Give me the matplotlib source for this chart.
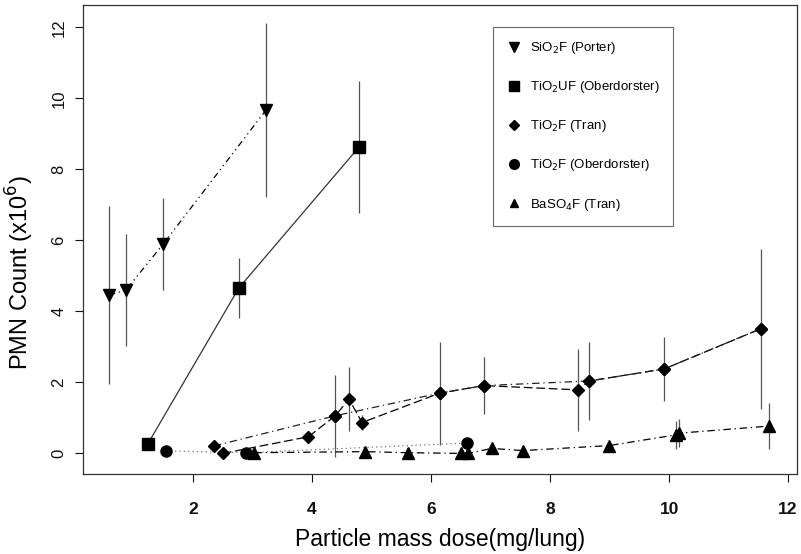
import matplotlib
matplotlib.use("Agg")
import matplotlib.pyplot as plt
from matplotlib.lines import Line2D

plt.rcParams['font.family'] = ['Liberation Sans', 'DejaVu Sans']

# SiO2 F (Porter)
sio2_x = [0.59, 0.87, 1.50, 3.23]
sio2_y = [4.46, 4.60, 5.90, 9.68]
sio2_e = [2.50, 1.58, 1.30, 2.45]

# TiO2 UF (Oberdorster)
tuf_x = [1.24, 2.77, 4.79]
tuf_y = [0.27, 4.66, 8.63]
tuf_e = [0.05, 0.85, 1.85]

# TiO2 F (Tran) - two exposure series
tran_a_x = [2.50, 3.94, 4.39, 4.62, 4.84, 6.15, 6.89, 8.47, 8.66, 9.92, 11.54]
tran_a_y = [0.00, 0.47, 1.06, 1.53, 0.87, 1.70, 1.91, 1.79, 2.04, 2.38, 3.51]
tran_a_e = [0.05, 0.10, 1.15, 0.90, 0.20, 1.45, 0.80, 1.15, 1.10, 0.90, 2.25]
tran_b_x = [2.35, 4.39, 6.15, 6.89, 8.66, 9.92, 11.54]
tran_b_y = [0.21, 1.06, 1.70, 1.91, 2.04, 2.38, 3.51]

# TiO2 F (Oberdorster)
tf_x = [1.55, 2.89, 6.60]
tf_y = [0.07, 0.02, 0.29]

# BaSO4 F (Tran)
ba_x = [3.03, 4.89, 5.61, 6.50, 6.62, 7.02, 7.54, 8.99, 10.11, 10.17, 11.68]
ba_y = [0.02, 0.05, 0.02, 0.00, 0.00, 0.14, 0.08, 0.22, 0.52, 0.57, 0.77]
ba_e = [0.02, 0.05, 0.02, 0.02, 0.02, 0.05, 0.03, 0.05, 0.40, 0.40, 0.65]

legend_labels = ["SiO$_2$F (Porter)", "TiO$_2$UF (Oberdorster)", "TiO$_2$F (Tran)",
                 "TiO$_2$F (Oberdorster)", "BaSO$_4$F (Tran)"]

fig = plt.figure(figsize=(8.01, 5.54), dpi=100)
ax = fig.add_axes([0.1036, 0.1444, 0.8914, 0.8466])

ebc = '#555555'
ekw = dict(fmt='none', ecolor=ebc, elinewidth=0.9, capsize=0, zorder=1)
ax.errorbar(sio2_x, sio2_y, yerr=sio2_e, **ekw)
ax.errorbar(tuf_x, tuf_y, yerr=tuf_e, **ekw)
ax.errorbar(tran_a_x, tran_a_y, yerr=tran_a_e, **ekw)
ax.errorbar(ba_x, ba_y, yerr=ba_e, **ekw)

lw = 0.9
ax.plot(sio2_x, sio2_y, color='black', lw=lw, dashes=(5, 3, 1, 3, 1, 3), zorder=2)
ax.plot(tuf_x, tuf_y, color='#333333', lw=lw, ls='-', zorder=2)
ax.plot(tran_a_x, tran_a_y, color='black', lw=lw, dashes=(7, 3), zorder=2)
ax.plot(tran_b_x, tran_b_y, color='#222222', lw=lw, dashes=(6, 3, 1, 3), zorder=2)
ax.plot(tf_x, tf_y, color='#777777', lw=lw, dashes=(1, 2.5), zorder=2)
ax.plot(ba_x, ba_y, color='black', lw=lw, dashes=(6, 3, 1, 3), zorder=2)

ax.plot(sio2_x, sio2_y, 'v', color='black', ms=8, ls='none', zorder=3)
ax.plot(tuf_x, tuf_y, 's', color='black', ms=8, ls='none', zorder=3)
ax.plot(tran_a_x, tran_a_y, 'D', color='black', ms=6, ls='none', zorder=3)
ax.plot(tran_b_x, tran_b_y, 'D', color='black', ms=6, ls='none', zorder=3)
ax.plot(tf_x, tf_y, 'o', color='black', ms=8, ls='none', zorder=3)
ax.plot(ba_x, ba_y, '^', color='black', ms=8, ls='none', zorder=3)

ax.set_xlim(0.15, 12.15)
ax.set_ylim(-0.58, 12.63)
ax.set_xticks([2, 4, 6, 8, 10, 12])
ax.set_yticks([0, 2, 4, 6, 8, 10, 12])
ax.tick_params(axis='x', direction='out', length=6, width=0.8, pad=14, labelsize=12.5, colors='#111111')
ax.tick_params(axis='y', direction='out', length=6, width=0.8, pad=6, labelsize=12, colors='#111111')
for lab in ax.get_xticklabels():
    lab.set_fontweight('bold')
for lab in ax.get_yticklabels():
    lab.set_rotation(90)
    lab.set_va('center')
for sp in ax.spines.values():
    sp.set_linewidth(0.9)
    sp.set_color('#333333')

ax.set_xlabel("Particle mass dose(mg/lung)", fontsize=16.5, labelpad=8)
ax.set_ylabel("PMN Count (x10$^6$)", fontsize=17)
ax.yaxis.set_label_coords(-0.066, 0.43)

handles = [Line2D([], [], marker=m, color='black', ls='none', ms=s)
           for m, s in [('v', 7), ('s', 7), ('D', 5), ('o', 7), ('^', 6)]]
leg = ax.legend(handles, legend_labels, loc='upper left',
                bbox_to_anchor=(0.574, 0.953), fontsize=9.5, frameon=True,
                fancybox=False, edgecolor='#444444', labelspacing=1.75,
                borderpad=1.0, handletextpad=0.6, handlelength=1.2,
                borderaxespad=0)
leg.get_frame().set_linewidth(0.8)

fig.savefig("out.png", dpi=100)
